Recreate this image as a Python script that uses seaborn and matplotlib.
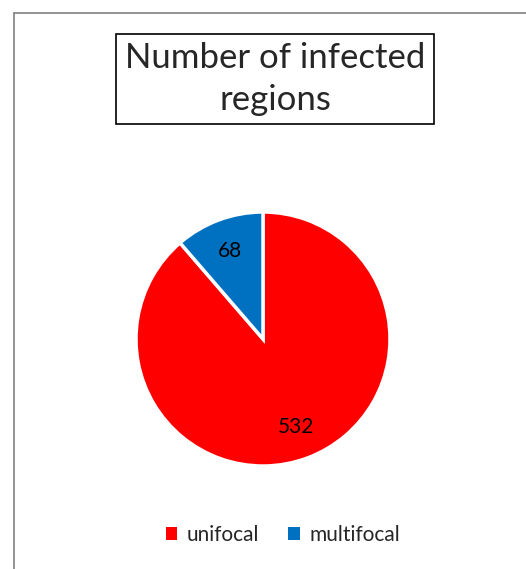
import matplotlib
matplotlib.use("Agg")
import matplotlib.pyplot as plt
import seaborn as sns
from matplotlib.lines import Line2D
from matplotlib.patches import Patch

# ── data ──────────────────────────────────────────────
categories = ["unifocal", "multifocal"]
counts = [532, 68]
colors = ["#FF0000", "#0070C0"]
title = "Number of infected\nregions"

sns.set_theme(style="white")
plt.rcParams["font.family"] = ["Lato", "DejaVu Sans"]

W, H = 526, 569
fig = plt.figure(figsize=(W / 100, H / 100), dpi=100)

# pie axes: centre (263, 339), radius ~127 px
R = 127
cx, cy = 263, 339
ax = fig.add_axes([(cx - R) / W, (H - cy - R) / H, 2 * R / W, 2 * R / H])
wedges, texts, autotexts = ax.pie(
    counts,
    colors=colors,
    startangle=90,
    counterclock=False,
    autopct=lambda p: f"{round(p * sum(counts) / 100):d}",
    pctdistance=0.74,
    wedgeprops=dict(edgecolor="white", linewidth=2.5, clip_on=False),
    textprops=dict(fontsize=15, color="black"),
)
ax.set_xlim(-1, 1)
ax.set_ylim(-1, 1)
ax.set_aspect("equal")

# title in a box
fig.text(275 / W, 1 - 79 / H, title, ha="center", va="center", fontsize=25,
         linespacing=1.38,
         bbox=dict(boxstyle="square,pad=0.24", facecolor="white",
                   edgecolor="black", linewidth=1.2))

# legend
handles = [Patch(facecolor=c, edgecolor="none") for c in colors]
fig.legend(handles, categories, loc="center", bbox_to_anchor=(283 / W, 1 - 535 / H),
           ncol=2, frameon=False, fontsize=15, handlelength=0.55, handleheight=0.55,
           handletextpad=0.45, columnspacing=1.4)

# chart-area border (only left and top visible in the crop)
fig.add_artist(Line2D([14 / W, 14 / W], [0, 1 - 13 / H], color="#808080", lw=1.2,
                      transform=fig.transFigure))
fig.add_artist(Line2D([14 / W, 1], [1 - 13 / H, 1 - 13 / H], color="#808080", lw=1.2,
                      transform=fig.transFigure))

fig.savefig("out.png", dpi=100, facecolor="white")
